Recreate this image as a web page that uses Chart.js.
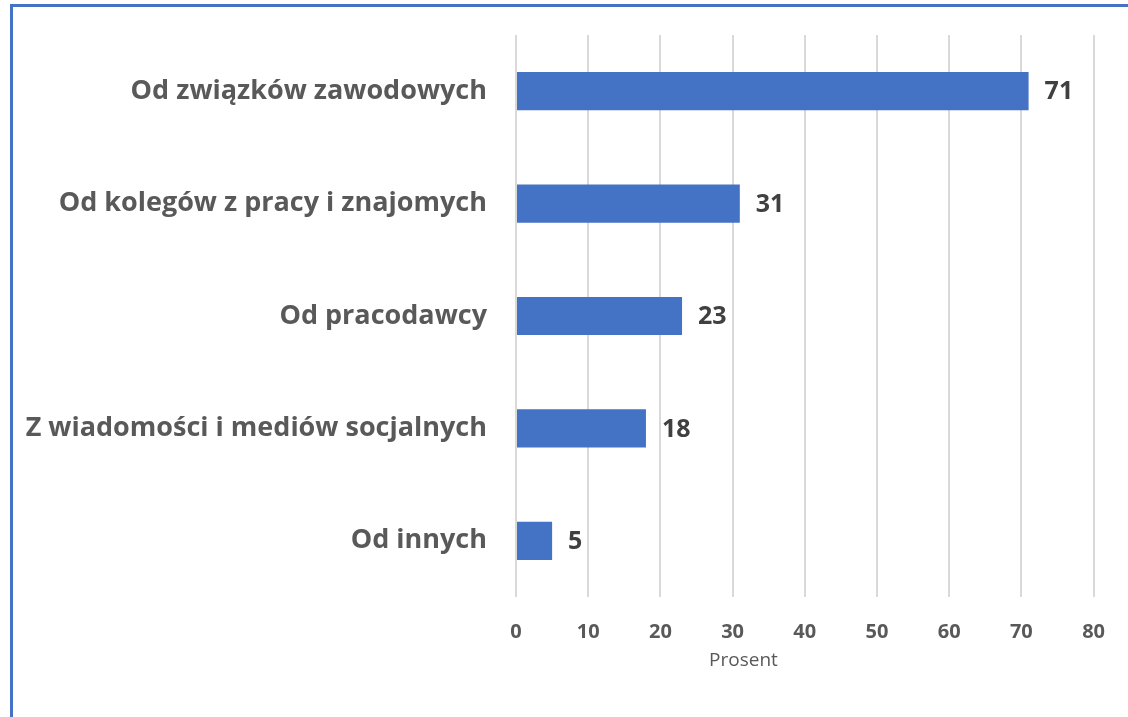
<!DOCTYPE html>
<html lang="en">

<head>
    <meta charset="UTF-8">
    <title>Prosent</title>
    <style>
        body { margin: 0; background: #fff; }
        #frame {
            position: absolute; left: 10px; top: 4px; width: 1118px; height: 713px;
            border-left: 3px solid #4472C4; border-top: 3px solid #4472C4; box-sizing: border-box;
        }
        #chart { position: absolute; left: 0; top: 0; }
    </style>
</head>

<body>
    <div id="frame"></div>
    <canvas id="chart" width="1128" height="717"></canvas>
</body>

<script src="https://cdn.jsdelivr.net/npm/chart.js"></script>

<script>
    const categories = ['Od związków zawodowych', 'Od kolegów z pracy i znajomych', 'Od pracodawcy',
        'Z wiadomości i mediów socjalnych', 'Od innych'];
    const values = [71, 31, 23, 18, 5];
    const xTicks = [0, 10, 20, 30, 40, 50, 60, 70, 80];
    const xTitle = 'Prosent';

    const fontFamily = '"Open Sans", "Noto Sans", sans-serif';

    // value labels at the end of each bar + the x axis title (Excel put it left of centre)
    const valueLabels = {
        id: 'valueLabels',
        afterDatasetsDraw(chart) {
            const ctx = chart.ctx;
            const meta = chart.getDatasetMeta(0);
            ctx.save();
            ctx.font = 'bold 25px ' + fontFamily;
            ctx.fillStyle = '#404040';
            ctx.textBaseline = 'middle';
            ctx.textAlign = 'left';
            meta.data.forEach((bar, i) => {
                ctx.fillText(values[i], bar.x + 16, bar.y + 1);
            });
            ctx.font = '19px ' + fontFamily;
            ctx.fillStyle = '#595959';
            ctx.textAlign = 'center';
            ctx.fillText(xTitle, chart.scales.x.getPixelForValue(31.5), chart.chartArea.bottom + 64);
            ctx.restore();
        }
    };

    new Chart(document.getElementById('chart').getContext('2d'), {
        type: 'bar',
        data: {
            labels: categories,
            datasets: [{
                data: values,
                backgroundColor: '#4472C4',
                barPercentage: 0.5,
                categoryPercentage: 0.68
            }]
        },
        options: {
            indexAxis: 'y',
            responsive: false,
            animation: false,
            layout: { padding: { left: 0, right: 11, top: 35, bottom: 0 } },
            plugins: { legend: { display: false }, tooltip: { enabled: false } },
            scales: {
                x: {
                    min: 0, max: 80,
                    afterBuildTicks: axis => { axis.ticks = xTicks.map(v => ({ value: v })); },
                    afterFit: axis => { axis.height = 120; },
                    grid: { color: '#d9d9d9', lineWidth: 2, drawTicks: false },
                    border: { display: false },
                    ticks: { padding: 23, color: '#595959', font: { family: fontFamily, size: 20, weight: 'bold' } }
                },
                y: {
                    afterFit: axis => { axis.width = 516; axis.paddingTop = 0; axis.paddingBottom = 0; },
                    grid: { display: false, drawTicks: false },
                    border: { display: false },
                    ticks: { padding: 29, color: '#595959', font: { family: fontFamily, size: 27, weight: 'bold' } }
                }
            }
        },
        plugins: [valueLabels]
    });
</script>

</html>
